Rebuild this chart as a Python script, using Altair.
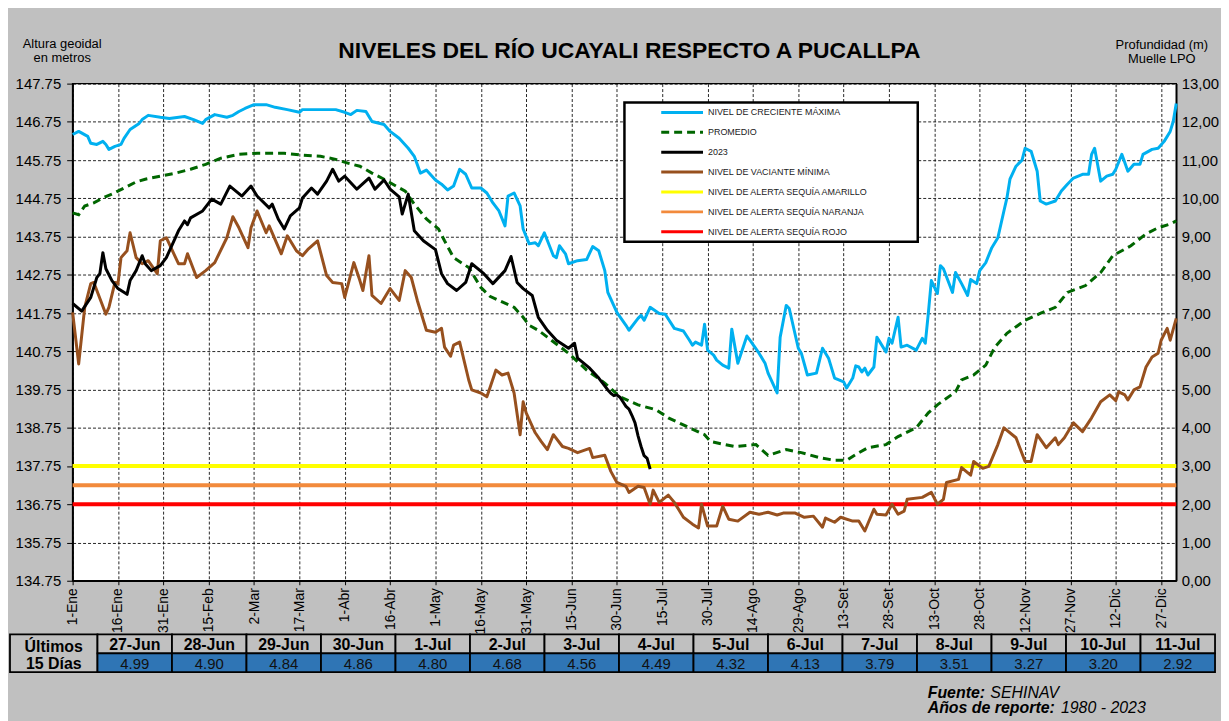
import altair as alt
import pandas as pd

# ---------------- data ----------------
x_tick_days = list(range(0, 361, 15))
x_tick_labels = ['1-Ene', '16-Ene', '31-Ene', '15-Feb', '2-Mar', '17-Mar', '1-Abr', '16-Abr',
                 '1-May', '16-May', '31-May', '15-Jun', '30-Jun', '15-Jul', '30-Jul', '14-Ago',
                 '29-Ago', '13-Set', '28-Set', '13-Oct', '28-Oct', '12-Nov', '27-Nov', '12-Dic', '27-Dic']
y_left_ticks = [134.75, 135.75, 136.75, 137.75, 138.75, 139.75, 140.75, 141.75, 142.75,
                143.75, 144.75, 145.75, 146.75, 147.75]
y_right_ticks = list(range(0, 14))
DATUM = 134.75  # geoidal height of depth 0,00 (Muelle LPO)

max_days = [0, 2, 5, 6, 8, 10, 11, 12, 14, 16,
            17, 19, 22, 23, 25, 29, 32, 37, 40, 43,
            44, 47, 51, 53, 55, 57, 60, 64, 67, 71,
            75, 76, 84, 87, 90, 92, 94, 97, 99, 103,
            105, 108, 111, 113, 115, 117, 120, 122, 124, 126,
            128, 130, 132, 135, 137, 139, 141, 143, 144, 146,
            148, 149, 151, 153, 154, 156, 159, 160, 161, 163,
            164, 167, 170, 172, 174, 176, 177, 180, 183, 184,
            187, 188, 189, 191, 194, 196, 199, 202, 204, 205,
            206, 208, 209, 210, 212, 213, 215, 217, 218, 220,
            223, 224, 227, 229, 230, 233, 234, 236, 237, 240,
            241, 243, 246, 248, 250, 252, 255, 256, 258, 259,
            260, 261, 262, 263, 265, 266, 267, 269, 270, 271,
            273, 274, 276, 279, 281, 282, 283, 284, 286, 287,
            288, 291, 292, 294, 296, 297, 299, 300, 302, 304,
            306, 308, 309, 310, 312, 314, 315, 317, 319, 320,
            322, 325, 327, 329, 331, 334, 336, 337, 338, 340,
            342, 344, 345, 347, 349, 351, 353, 354, 357, 359,
            361, 363, 364, 365]
max_vals = [146.42, 146.50, 146.37, 146.19, 146.16, 146.24, 146.16, 146.03, 146.11, 146.16,
            146.32, 146.55, 146.71, 146.81, 146.92, 146.87, 146.84, 146.89, 146.81, 146.71,
            146.81, 146.94, 146.87, 146.92, 147.02, 147.10, 147.20, 147.20, 147.13, 147.07,
            147.00, 147.07, 147.07, 147.07, 147.00, 146.94, 147.05, 147.02, 146.76, 146.68,
            146.50, 146.32, 146.06, 145.85, 145.41, 145.49, 145.23, 145.12, 144.97, 145.07,
            145.51, 145.38, 145.02, 145.02, 144.89, 144.63, 144.42, 144.03, 144.81, 144.89,
            144.55, 143.95, 143.56, 143.59, 143.51, 143.85, 143.25, 143.20, 143.51, 143.30,
            143.04, 143.12, 143.15, 143.49, 143.38, 142.86, 142.29, 141.77, 141.43, 141.30,
            141.61, 141.69, 141.56, 141.90, 141.74, 141.72, 141.35, 141.28, 141.04, 140.91,
            140.99, 140.91, 141.46, 140.78, 140.65, 140.52, 140.39, 140.31, 141.33, 140.44,
            141.15, 141.04, 140.70, 140.44, 140.18, 139.66, 141.12, 141.95, 141.87, 140.83,
            140.70, 140.13, 140.18, 140.83, 140.57, 140.05, 139.95, 139.79, 140.05, 140.37,
            140.34, 140.21, 140.31, 140.13, 140.34, 141.12, 140.99, 140.73, 141.09, 140.96,
            141.64, 140.86, 140.91, 140.78, 141.09, 140.96, 141.74, 142.60, 142.26, 142.99,
            142.91, 142.29, 142.81, 142.52, 142.21, 142.63, 142.52, 142.86, 143.07, 143.46,
            143.72, 144.42, 144.76, 145.25, 145.59, 145.75, 146.06, 145.98, 145.46, 144.68,
            144.60, 144.68, 144.94, 145.12, 145.28, 145.38, 145.38, 145.90, 146.06, 145.20,
            145.33, 145.38, 145.51, 145.90, 145.46, 145.64, 145.64, 145.90, 146.03, 146.06,
            146.24, 146.50, 146.76, 147.23]

avg_days = [0, 2, 4, 7, 10, 13, 17, 21, 24, 29,
            34, 39, 44, 49, 55, 61, 70, 76, 82, 87,
            91, 95, 99, 103, 107, 110, 113, 117, 121, 123,
            126, 131, 135, 138, 141, 146, 149, 151, 154, 157,
            164, 170, 176, 181, 187, 193, 197, 204, 209, 211,
            214, 219, 226, 230, 236, 241, 247, 252, 256, 259,
            263, 269, 273, 279, 283, 286, 292, 294, 298, 302,
            305, 309, 315, 320, 325, 329, 335, 340, 344, 350,
            355, 359, 363, 365]
avg_vals = [144.37, 144.32, 144.55, 144.63, 144.76, 144.86, 145.02, 145.18, 145.25, 145.33,
            145.41, 145.51, 145.64, 145.80, 145.90, 145.93, 145.93, 145.88, 145.85, 145.77,
            145.67, 145.59, 145.41, 145.25, 145.07, 144.94, 144.60, 144.21, 143.95, 143.64,
            143.20, 142.94, 142.42, 142.19, 142.08, 141.90, 141.64, 141.43, 141.30, 141.12,
            140.70, 140.26, 139.92, 139.56, 139.35, 139.22, 139.01, 138.75, 138.57, 138.39,
            138.34, 138.26, 138.31, 138.03, 138.18, 138.10, 137.97, 137.90, 137.90, 138.05,
            138.23, 138.31, 138.52, 138.75, 139.14, 139.35, 139.69, 140.00, 140.13, 140.39,
            140.86, 141.22, 141.56, 141.74, 141.90, 142.29, 142.47, 142.81, 143.25, 143.51,
            143.82, 143.98, 144.08, 144.16]

y2023_days = [0, 3, 6, 8, 9, 10, 11, 13, 15, 18,
              19, 21, 23, 24, 26, 29, 31, 34, 35, 37,
              38, 39, 43, 46, 49, 52, 56, 59, 61, 65,
              66, 68, 70, 72, 75, 76, 79, 81, 84, 86,
              88, 90, 94, 98, 100, 103, 105, 108, 109, 111,
              113, 116, 120, 122, 124, 127, 130, 132, 136, 139,
              143, 145, 147, 149, 152, 154, 157, 160, 164, 166,
              167, 171, 174]
y2023_vals = [142.00, 141.80, 142.16, 142.68, 142.78, 143.33, 142.91, 142.60, 142.39, 142.24,
              142.60, 142.86, 143.25, 143.04, 142.86, 142.99, 143.20, 143.72, 143.90, 144.16,
              144.06, 144.24, 144.42, 144.73, 144.60, 145.07, 144.81, 145.07, 144.81, 144.50,
              144.60, 144.21, 143.95, 144.29, 144.50, 144.76, 145.02, 144.86, 145.20, 145.51,
              145.20, 145.33, 144.99, 145.28, 144.99, 145.23, 144.99, 144.79, 144.34, 144.86,
              143.90, 143.64, 143.41, 142.78, 142.52, 142.34, 142.55, 143.04, 142.78, 142.52,
              142.86, 143.23, 142.55, 142.39, 142.21, 141.64, 141.30, 141.04, 140.83, 140.96,
              140.57, 140.31, 140.05]

min_days = [0, 2, 4, 6, 7, 11, 12, 14, 15, 16,
            18, 19, 21, 23, 25, 28, 29, 31, 35, 37,
            38, 41, 44, 47, 51, 53, 55, 58, 59, 61,
            64, 65, 69, 71, 74, 76, 78, 81, 84, 86,
            89, 90, 93, 95, 96, 98, 99, 102, 105, 108,
            110, 112, 114, 117, 120, 122, 123, 125, 126, 128,
            131, 132, 135, 137, 138, 140, 142, 144, 146, 148,
            149, 150, 153, 155, 157, 159, 162, 164, 167, 171,
            172, 176, 178, 180, 183, 184, 187, 189, 191, 192,
            194, 197, 199, 202, 205, 207, 208, 210, 213, 215,
            217, 220, 224, 227, 230, 233, 235, 239, 242, 245,
            248, 249, 252, 254, 258, 260, 262, 265, 266, 269,
            271, 273, 275, 276, 281, 284, 286, 288, 289, 293,
            294, 297, 298, 301, 303, 306, 308, 312, 315, 317,
            319, 322, 325, 326, 328, 331, 334, 337, 340, 343,
            345, 346, 348, 349, 351, 353, 355, 357, 359, 360,
            362, 363, 365]
min_vals = [141.77, 140.42, 141.90, 142.52, 142.55, 141.72, 141.90, 142.55, 142.52, 143.20,
            143.38, 143.85, 143.20, 143.04, 143.12, 142.78, 143.64, 143.72, 143.04, 143.04,
            143.30, 142.68, 142.86, 143.07, 143.72, 144.27, 143.98, 143.46, 143.98, 144.42,
            143.85, 144.03, 143.30, 143.77, 143.38, 143.25, 143.43, 143.64, 142.73, 142.55,
            142.52, 142.16, 143.07, 142.60, 142.34, 143.25, 142.21, 142.00, 142.39, 142.08,
            142.86, 142.68, 142.08, 141.30, 141.25, 141.35, 140.86, 140.62, 140.91, 140.99,
            140.00, 139.74, 139.66, 139.56, 139.79, 140.26, 140.13, 140.18, 139.66, 138.57,
            139.43, 139.14, 138.62, 138.39, 138.18, 138.57, 138.26, 138.21, 138.10, 138.21,
            137.97, 138.03, 137.61, 137.32, 137.22, 137.06, 137.22, 137.19, 136.75, 137.12,
            136.80, 136.99, 136.80, 136.41, 136.23, 136.13, 136.75, 136.18, 136.18, 136.70,
            136.36, 136.31, 136.54, 136.49, 136.54, 136.47, 136.52, 136.52, 136.41, 136.44,
            136.15, 136.39, 136.28, 136.41, 136.31, 136.31, 136.05, 136.62, 136.49, 136.47,
            136.75, 136.49, 136.57, 136.88, 136.93, 137.06, 136.75, 136.88, 137.32, 137.40,
            137.71, 137.51, 137.87, 137.69, 137.74, 138.31, 138.75, 138.49, 137.87, 137.87,
            138.57, 138.23, 138.49, 138.31, 138.49, 138.88, 138.65, 139.01, 139.43, 139.61,
            139.46, 139.69, 139.61, 139.48, 139.74, 139.82, 140.34, 140.60, 140.70, 141.04,
            141.35, 141.04, 141.61]

# last 15 days (depth, m) -- also the tail of the 2023 series
table_dates = ['27-Jun', '28-Jun', '29-Jun', '30-Jun', '1-Jul', '2-Jul', '3-Jul', '4-Jul',
               '5-Jul', '6-Jul', '7-Jul', '8-Jul', '9-Jul', '10-Jul', '11-Jul']
table_days = [177, 178, 179, 180, 181, 182, 183, 184, 185, 186, 187, 188, 189, 190, 191]
table_vals = [4.99, 4.90, 4.84, 4.86, 4.80, 4.68, 4.56, 4.49, 4.32, 4.13, 3.79, 3.51, 3.27, 3.20, 2.92]

alert_names = ['AMARILLO', 'NARANJA', 'ROJO']
alert_depths = [3.0, 2.5, 2.0]
alert_colors = ['#FFFF00', '#F28A3C', '#FF0000']

legend_labels = ['NIVEL DE CRECIENTE MÁXIMA', 'PROMEDIO', '2023', 'NIVEL DE VACIANTE MÍNIMA',
                 'NIVEL DE ALERTA SEQUÍA AMARILLO', 'NIVEL DE ALERTA SEQUÍA NARANJA',
                 'NIVEL DE ALERTA SEQUÍA ROJO']
C_MAX, C_AVG, C_2023, C_MIN = '#00B0F0', '#006600', '#000000', '#97501E'
legend_colors = [C_MAX, C_AVG, C_2023, C_MIN] + alert_colors
legend_dashes = [[1, 0], [8, 5], [1, 0], [1, 0], [1, 0], [1, 0], [1, 0]]

assert len(max_days) == len(max_vals)
assert len(avg_days) == len(avg_vals)
assert len(y2023_days) == len(y2023_vals)
assert len(min_days) == len(min_vals)

FONT = 'Liberation Sans'

# ---------------- main lines ----------------
label_expr = "[" + ",".join("'%s'" % s for s in x_tick_labels) + "][round(datum.value / 15)]"

x_enc = alt.X('day:Q', scale=alt.Scale(domain=[0, 365], nice=False, zero=False),
              axis=alt.Axis(values=x_tick_days, labelExpr=label_expr, labelAngle=-90,
                            labelFontSize=14, labelColor='black', labelPadding=3,
                            labelFlush=False, labelOverlap=False, labelBound=False,
                            tickSize=4, tickColor='black', domainColor='black', domainWidth=1.5,
                            grid=True, gridColor='black', gridDash=[3, 2], gridWidth=1,
                            gridOpacity=0.85, title=None))
y_enc = alt.Y('geo:Q', scale=alt.Scale(domain=[134.75, 147.75], nice=False, zero=False),
              axis=alt.Axis(values=y_left_ticks, format='.2f', labelFontSize=15,
                            labelColor='black', labelPadding=6, labelFlush=False,
                            tickSize=6, tickColor='black', domainColor='black', domainWidth=1.5,
                            grid=True, gridColor='black', gridDash=[3, 2], gridWidth=1,
                            gridOpacity=0.85,
                            title=['Altura geoidal', 'en metros'], titleAngle=0, titleX=-11,
                            titleY=-46, titleAlign='center', titleBaseline='top',
                            titleFontSize=13, titleFontWeight='normal', titleLineHeight=14,
                            titleColor='black'))


def series(days, vals):
    return pd.DataFrame({'day': days, 'geo': vals})


y2023_full_days = y2023_days + table_days
y2023_full_vals = y2023_vals + [round(DATUM + v, 2) for v in table_vals]

l_min = alt.Chart(series(min_days, min_vals)).mark_line(color=C_MIN, strokeWidth=3, strokeJoin='round').encode(x=x_enc, y=y_enc)
l_max = alt.Chart(series(max_days, max_vals)).mark_line(color=C_MAX, strokeWidth=3, strokeJoin='round').encode(x=x_enc, y=y_enc)
l_avg = alt.Chart(series(avg_days, avg_vals)).mark_line(color=C_AVG, strokeWidth=3, strokeDash=[8, 5]).encode(x=x_enc, y=y_enc)
l_2023 = alt.Chart(series(y2023_full_days, y2023_full_vals)).mark_line(color=C_2023, strokeWidth=3, strokeJoin='round').encode(x=x_enc, y=y_enc)
lines = alt.layer(l_min, l_max, l_avg, l_2023)

# ---------------- alert levels + right axis ----------------
alerts = alt.Chart(pd.DataFrame({'nivel': alert_names, 'prof': alert_depths})).mark_rule(strokeWidth=4).encode(
    y=alt.Y('prof:Q', scale=alt.Scale(domain=[0, 13], nice=False, zero=False),
            axis=alt.Axis(orient='right', values=y_right_ticks,
                          labelExpr="replace(format(datum.value, '.2f'), '.', ',')",
                          labelFontSize=15, labelColor='black', labelPadding=5, tickSize=0,
                          domainColor='black', domainWidth=1.5, grid=False,
                          title=['Profundidad (m)', 'Muelle LPO'], titleAngle=0, titleX=-15,
                          titleY=-45, titleAlign='center', titleBaseline='top',
                          titleFontSize=13, titleFontWeight='normal', titleLineHeight=14,
                          titleColor='black')),
    color=alt.Color('nivel:N', scale=alt.Scale(domain=alert_names, range=alert_colors), legend=None),
)

# ---------------- legend ----------------
leg_df = pd.DataFrame({'label': legend_labels})
leg_y = alt.Y('label:N', sort=legend_labels,
              scale=alt.Scale(type='point', domain=legend_labels, range=[29, 149], padding=0),
              axis=None)
leg_box = alt.Chart(pd.DataFrame({'k': [0]})).mark_rect(fill='white', stroke='black', strokeWidth=2.5).encode(
    x=alt.value(555), x2=alt.value(850), y=alt.value(19), y2=alt.value(159))
leg_sym = alt.Chart(leg_df).mark_rule(strokeWidth=3).encode(
    x=alt.value(592), x2=alt.value(634), y=leg_y,
    color=alt.Color('label:N', scale=alt.Scale(domain=legend_labels, range=legend_colors), legend=None),
    strokeDash=alt.StrokeDash('label:N', scale=alt.Scale(domain=legend_labels, range=legend_dashes), legend=None),
)
leg_txt = alt.Chart(leg_df).mark_text(align='left', baseline='middle', fontSize=9, color='#1a1a1a', font=FONT).encode(
    x=alt.value(639), y=leg_y, text='label:N')
legend = alt.layer(leg_sym, leg_txt)

# ---------------- table of the last 15 days ----------------
rows = ['fecha', 'valor']
tab_df = pd.DataFrame({
    'fecha': table_dates * 2,
    'fila': ['fecha'] * len(table_dates) + ['valor'] * len(table_dates),
    'texto': table_dates + ['%.2f' % v for v in table_vals],
})
t_xscale = alt.Scale(domain=table_dates, range=[25, 1149], paddingInner=0, paddingOuter=0)
t_yscale = alt.Scale(domain=rows, range=[554, 592], paddingInner=0, paddingOuter=0)
tx = alt.X('fecha:N', sort=table_dates, scale=t_xscale, axis=None)
ty = alt.Y('fila:N', sort=rows, scale=t_yscale, axis=None)
txc = alt.X('fecha:N', sort=table_dates, scale=t_xscale, axis=None, bandPosition=0.5)
tyc = alt.Y('fila:N', sort=rows, scale=t_yscale, axis=None, bandPosition=0.5)
t_cells = alt.Chart(tab_df).mark_rect(stroke='black', strokeWidth=1.8).encode(
    x=tx, y=ty,
    fill=alt.Fill('fila:N', scale=alt.Scale(domain=rows, range=['#c0c0c0', '#2F75B5']), legend=None))
t_head = alt.Chart(tab_df).transform_filter("datum.fila == 'fecha'").mark_text(
    fontSize=16, fontWeight='bold', baseline='middle', align='center', color='black', font=FONT, dy=1).encode(
    x=txc, y=tyc, text='texto:N')
t_vals = alt.Chart(tab_df).transform_filter("datum.fila == 'valor'").mark_text(
    fontSize=15, baseline='middle', align='center', color='#111111', font=FONT, dy=1).encode(
    x=txc, y=tyc, text='texto:N')
table = alt.layer(t_cells, t_head, t_vals)

hdr_name = 'Últimos 15 Días'
hdr_df = pd.DataFrame({'k': [hdr_name], 'texto': ['Últimos\n15 Días']})
h_xs = alt.Scale(domain=[hdr_name], range=[-63, 25], paddingInner=0, paddingOuter=0)
h_ys = alt.Scale(domain=[hdr_name], range=[554, 592], paddingInner=0, paddingOuter=0)
h_cell = alt.Chart(hdr_df).mark_rect(fill='#c0c0c0', stroke='black', strokeWidth=1.8).encode(
    x=alt.X('k:N', scale=h_xs, axis=None), y=alt.Y('k:N', scale=h_ys, axis=None))
h_txt = alt.Chart(hdr_df).mark_text(fontSize=16, fontWeight='bold', baseline='middle', align='center',
                                    lineBreak='\n', lineHeight=17, color='black', font=FONT, dy=-6).encode(
    x=alt.X('k:N', scale=h_xs, axis=None, bandPosition=0.5),
    y=alt.Y('k:N', scale=h_ys, axis=None, bandPosition=0.5), text='texto:N')
header = alt.layer(h_cell, h_txt)

# ---------------- title and source notes ----------------
title_txt = alt.Chart(pd.DataFrame({'t': ['NIVELES  DEL  RÍO  UCAYALI  RESPECTO  A  PUCALLPA']})).mark_text(
    fontSize=23, fontWeight='bold', align='center', baseline='alphabetic', color='black', font=FONT).encode(
    x=alt.value(560), y=alt.value(-26), text='t:N')

src_df = pd.DataFrame({'a': ['Fuente:'], 'b': ['SEHINAV'], 'c': ['Años de reporte:'], 'd': ['1980 - 2023']})
src_a = alt.Chart(src_df).mark_text(fontSize=16, fontWeight='bold', fontStyle='italic', align='left',
                                    baseline='alphabetic', color='black', font=FONT).encode(
    x=alt.value(860), y=alt.value(618), text='a:N')
src_b = alt.Chart(src_df).mark_text(fontSize=16, fontStyle='italic', align='left',
                                    baseline='alphabetic', color='black', font=FONT).encode(
    x=alt.value(923), y=alt.value(618), text='b:N')
src_c = alt.Chart(src_df).mark_text(fontSize=16, fontWeight='bold', fontStyle='italic', align='left',
                                    baseline='alphabetic', color='black', font=FONT).encode(
    x=alt.value(860), y=alt.value(633), text='c:N')
src_d = alt.Chart(src_df).mark_text(fontSize=16, fontStyle='italic', align='left',
                                    baseline='alphabetic', color='black', font=FONT).encode(
    x=alt.value(994), y=alt.value(633), text='d:N')

chart = alt.layer(
    alerts, lines, leg_box, legend, header, table, title_txt, src_a, src_b, src_c, src_d
).resolve_scale(
    x='independent', y='independent', color='independent', strokeDash='independent', fill='independent'
).properties(
    width=1110, height=500,
    autosize=alt.AutoSizeParams(type='none'),
    padding={'left': 65, 'top': 74, 'right': 45, 'bottom': 139},
).configure(
    background='#c0c0c0', font=FONT
).configure_view(
    fill='white', stroke='black', strokeWidth=1.5
)

chart.save('out.html', embed_options={'renderer': 'svg', 'actions': False})
